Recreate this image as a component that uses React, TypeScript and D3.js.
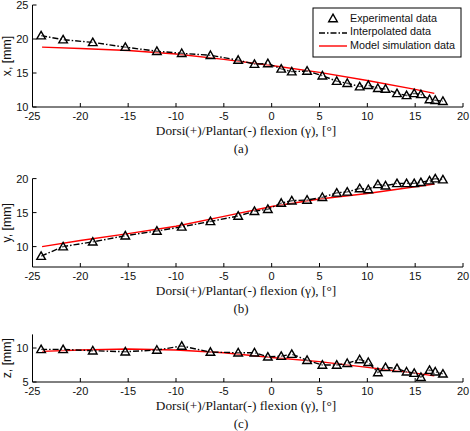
import React from "react";
import * as d3 from "d3";

const gamma = [-24.1, -21.8, -18.7, -15.3, -12.0, -9.4, -6.4, -3.5, -1.8, -0.4, 1.0, 2.1, 3.7, 5.3, 6.8, 7.9, 9.2, 10.1, 11.1, 11.9, 13.1, 14.1, 14.9, 15.6, 16.5, 17.1, 17.9];
const xExp = [20.5, 19.9, 19.5, 18.8, 18.2, 17.9, 17.6, 16.9, 16.3, 16.4, 15.6, 15.2, 15.3, 14.6, 13.8, 13.5, 13.0, 13.2, 12.75, 12.65, 12.0, 11.7, 12.0, 11.85, 11.1, 11.0, 10.85];
const yExp = [8.6, 10.0, 10.7, 11.6, 12.3, 12.9, 13.7, 14.5, 15.2, 15.5, 16.4, 16.75, 16.85, 17.25, 17.9, 18.05, 18.55, 18.4, 19.15, 18.95, 19.3, 19.3, 19.3, 19.45, 19.7, 20.0, 19.85];
const zExp = [9.8, 9.8, 9.6, 9.45, 9.7, 10.3, 9.4, 9.3, 9.3, 8.7, 8.8, 9.1, 8.2, 7.5, 7.5, 7.75, 8.3, 7.9, 6.4, 7.15, 7.0, 6.5, 6.3, 5.7, 6.75, 6.5, 6.2];

const simGamma = [-24, -20, -15, -10, -5, 0, 5, 10, 15, 17];
const xSim = [18.8, 18.6, 18.3, 17.8, 17.0, 16.1, 15.1, 13.9, 12.6, 12.0];
const ySim = [10.0, 10.9, 11.9, 13.0, 14.45, 15.9, 17.0, 17.8, 18.8, 19.2];
const zSim = [9.5, 9.7, 9.85, 9.7, 9.3, 8.6, 8.0, 7.15, 6.3, 5.9];

const xTicks = [-25, -20, -15, -10, -5, 0, 5, 10, 15, 20];
const xLabel = "Dorsi(+)/Plantar(-) flexion (\u03b3), [\u00b0]";
const legendLabels = ["Experimental data", "Interpolated data", "Model simulation data"];

const panels = [
  { name: "x, [mm]", tag: "(a)", exp: xExp, sim: xSim, domain: [10, 25], top: 5, bottom: 107, ticks: [10, 15, 20, 25] },
  { name: "y, [mm]", tag: "(b)", exp: yExp, sim: ySim, domain: [7, 20], top: 178.6, bottom: 267, ticks: [10, 15, 20] },
  { name: "z, [mm]", tag: "(c)", exp: zExp, sim: zSim, domain: [5, 12], top: 334.4, bottom: 382, ticks: [5, 10] },
];

const SANS = "'Liberation Sans', Arial, sans-serif";
const SERIF = "'Liberation Serif', 'Times New Roman', serif";

function tri(cx: number, cy: number, s = 4.3) {
  return `M${cx},${cy - s} L${cx + s},${cy + s * 0.75} L${cx - s},${cy + s * 0.75} Z`;
}

export default function App() {
  const x = d3.scaleLinear().domain([-25, 20]).range([32.5, 463]);
  return (
    <svg width={470} height={431} style={{ position: "absolute", left: 0, top: 0, background: "#fff" }}>
      <rect width={470} height={431} fill="#fff" />
      {panels.map((p, pi) => {
        const y = d3.scaleLinear().domain(p.domain).range([p.bottom, p.top]);
        const interp = d3.line<number>().x((_, i) => x(gamma[i])).y((d) => y(d))(p.exp) || "";
        const simLine = d3.line<number>().x((_, i) => x(simGamma[i])).y((d) => y(d))(p.sim) || "";
        return (
          <g key={pi}>
            <line x1={x(-25)} x2={x(20)} y1={p.bottom} y2={p.bottom} stroke="#000" strokeWidth={1} />
            <line x1={x(-25)} x2={x(-25)} y1={p.bottom} y2={p.top} stroke="#000" strokeWidth={1} />
            {xTicks.map((t) => (
              <g key={t}>
                <line x1={x(t)} x2={x(t)} y1={p.bottom} y2={p.bottom - 4} stroke="#000" />
                <text x={x(t)} y={p.bottom + 12.5} textAnchor="middle" fontFamily={SANS} fontSize={11} fill="#111">
                  {t}
                </text>
              </g>
            ))}
            {p.ticks.map((t) => (
              <g key={t}>
                <line x1={x(-25)} x2={x(-25) + 4} y1={y(t)} y2={y(t)} stroke="#000" />
                <text x={x(-25) - 4} y={y(t) + 4} textAnchor="end" fontFamily={SANS} fontSize={11} fill="#111">
                  {t}
                </text>
              </g>
            ))}
            <text
              transform={`translate(11,${(p.top + p.bottom) / 2}) rotate(-90)`}
              textAnchor="middle"
              fontFamily={SANS}
              fontSize={12.3}
              fill="#111"
            >
              {p.name}
            </text>
            <text x={246} y={p.bottom + 27.5} textAnchor="middle" fontFamily={SERIF} fontSize={13.3} fill="#111">
              {xLabel}
            </text>
            <text x={241} y={p.bottom + 45.5} textAnchor="middle" fontFamily={SERIF} fontSize={13} fill="#111">
              {p.tag}
            </text>
            <path d={simLine} fill="none" stroke="#ff0000" strokeWidth={1.4} />
            <path d={interp} fill="none" stroke="#000" strokeWidth={1.4} strokeDasharray="6,2,1.5,2" />
            {p.exp.map((v, i) => (
              <path key={i} d={tri(x(gamma[i]), y(v))} fill="#fff" fillOpacity={0.35} stroke="#000" strokeWidth={1.4} />
            ))}
          </g>
        );
      })}
      <g>
        <rect x={313} y={8} width={148} height={49} fill="#fff" stroke="#000" strokeWidth={1} />
        <path d={tri(333, 18.5)} fill="none" stroke="#000" strokeWidth={1.4} />
        <line x1={319} x2={347} y1={33} y2={33} stroke="#000" strokeWidth={1.3} strokeDasharray="6,2,1.5,2" />
        <line x1={319} x2={347} y1={46} y2={46} stroke="#ff0000" strokeWidth={1.4} />
        {legendLabels.map((l, i) => (
          <text key={l} x={350} y={21.5 + i * 13.5} fontFamily={SANS} fontSize={10.8} fill="#111">
            {l}
          </text>
        ))}
      </g>
    </svg>
  );
}
